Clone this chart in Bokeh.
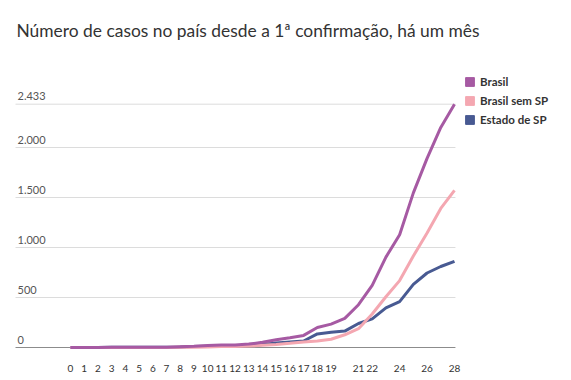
from bokeh.plotting import figure
from bokeh.models import Range1d, Label, Legend, LegendItem, ColumnDataSource
from bokeh.core.properties import value
from bokeh.embed import file_html
from bokeh.resources import INLINE

# ---- data ----
days = list(range(29))
brasil = [1, 1, 1, 2, 2, 2, 2, 3, 8, 13, 19, 25, 25, 34, 52, 77, 98, 121,
          200, 234, 291, 428, 621, 904, 1128, 1546, 1891, 2201, 2433]
estado_sp = [1, 1, 1, 2, 2, 2, 2, 3, 6, 10, 13, 16, 16, 19, 30, 46, 56, 65,
             136, 152, 164, 240, 286, 396, 459, 631, 745, 810, 862]
brasil_sem_sp = [b - s for b, s in zip(brasil, estado_sp)]

x_ticks = [0, 1, 2, 3, 4, 5, 6, 7, 8, 9, 10, 11, 12, 13, 14, 15, 16, 17, 18, 19, 21, 22, 24, 26, 28]
y_ticks = [0, 500, 1000, 1500, 2000, 2433]
y_tick_labels = ["0", "500", "1.000", "1.500", "2.000", "2.433"]

series_names = ["Brasil", "Brasil sem SP", "Estado de SP"]
colors = ["#a65aa3", "#f4a7b1", "#485a92"]

title_text = "Número de casos no país desde a 1ª confirmação, há um mês"
FONT = "Lato"

W, H = 571, 380
PX_DAY = 13.714
PX_UNIT = 0.1
X0_PX = 70          # pixel of day 0
Y0_PX = 347         # pixel of value 0 (from top)
x_start = -X0_PX / PX_DAY
x_end = x_start + W / PX_DAY
y_start = -(H - Y0_PX) / PX_UNIT
y_end = y_start + H / PX_UNIT
grid_x0 = x_start + 15 / PX_DAY
grid_x1 = 28.07

p = figure(width=W, height=H, output_backend="svg", toolbar_location=None,
           x_range=Range1d(x_start, x_end), y_range=Range1d(y_start, y_end),
           min_border=0, min_border_left=0, min_border_right=0,
           min_border_top=0, min_border_bottom=0)
p.outline_line_color = None
p.background_fill_color = "white"
p.border_fill_color = "white"
p.xaxis.visible = False
p.yaxis.visible = False
p.xgrid.visible = False
p.ygrid.visible = False

# gridlines
n = len(y_ticks) - 1
gsrc = ColumnDataSource(dict(x0=[grid_x0] * n, x1=[grid_x1] * n, y=y_ticks[1:]))
p.segment(x0="x0", y0="y", x1="x1", y1="y", source=gsrc, line_color="#dcdcdc", line_width=1)
p.segment(x0=[grid_x0], y0=[0], x1=[grid_x1], y1=[0], line_color="#8c8c8c", line_width=1)

# y labels above gridlines
ysrc = ColumnDataSource(dict(x=[grid_x0] * len(y_ticks), y=y_ticks, t=y_tick_labels))
p.text(x="x", y="y", text="t", source=ysrc, x_offset=2, y_offset=-4,
       text_baseline="bottom", text_align="left", text_font=value(FONT),
       text_font_size="11px", text_color="#555555")

# x tick labels
xsrc = ColumnDataSource(dict(x=x_ticks, y=[0] * len(x_ticks), t=[str(t) for t in x_ticks]))
p.text(x="x", y="y", text="t", source=xsrc, y_offset=21,
       text_baseline="middle", text_align="center", text_font=value(FONT),
       text_font_size="10px", text_color="#333333")

# lines
p.line(days, estado_sp, line_color=colors[2], line_width=3)
p.line(days, brasil_sem_sp, line_color=colors[1], line_width=3)
p.line(days, brasil, line_color=colors[0], line_width=3)

# legend with square swatches (hidden quads, used only for the legend glyph)
items = []
for name, c, vals in zip(series_names, colors, [brasil, brasil_sem_sp, estado_sp]):
    r = p.quad(left=[days[-1]], right=[days[-1]], top=[vals[-1]], bottom=[vals[-1]],
               fill_color=c, line_color=c, visible=False)
    items.append(LegendItem(label=name, renderers=[r]))
legend = Legend(items=items, location=(464, 254), orientation="vertical",
                glyph_width=11, glyph_height=11, label_standoff=5, spacing=5,
                label_height=14, padding=0, margin=0, click_policy="none",
                inactive_fill_alpha=0,
                border_line_alpha=0, background_fill_alpha=0,
                label_text_font=FONT, label_text_font_size="11.5px",
                label_text_font_style="bold", label_text_color="#333333",
                label_text_baseline="middle")
p.add_layout(legend)

# title
p.add_layout(Label(x=16, y=H - 30, x_units="screen", y_units="screen", text=title_text,
                   text_font=FONT, text_font_size="17.4px", text_color="#333333",
                   text_baseline="alphabetic"))

open("out.html", "w").write(file_html(p, INLINE))
